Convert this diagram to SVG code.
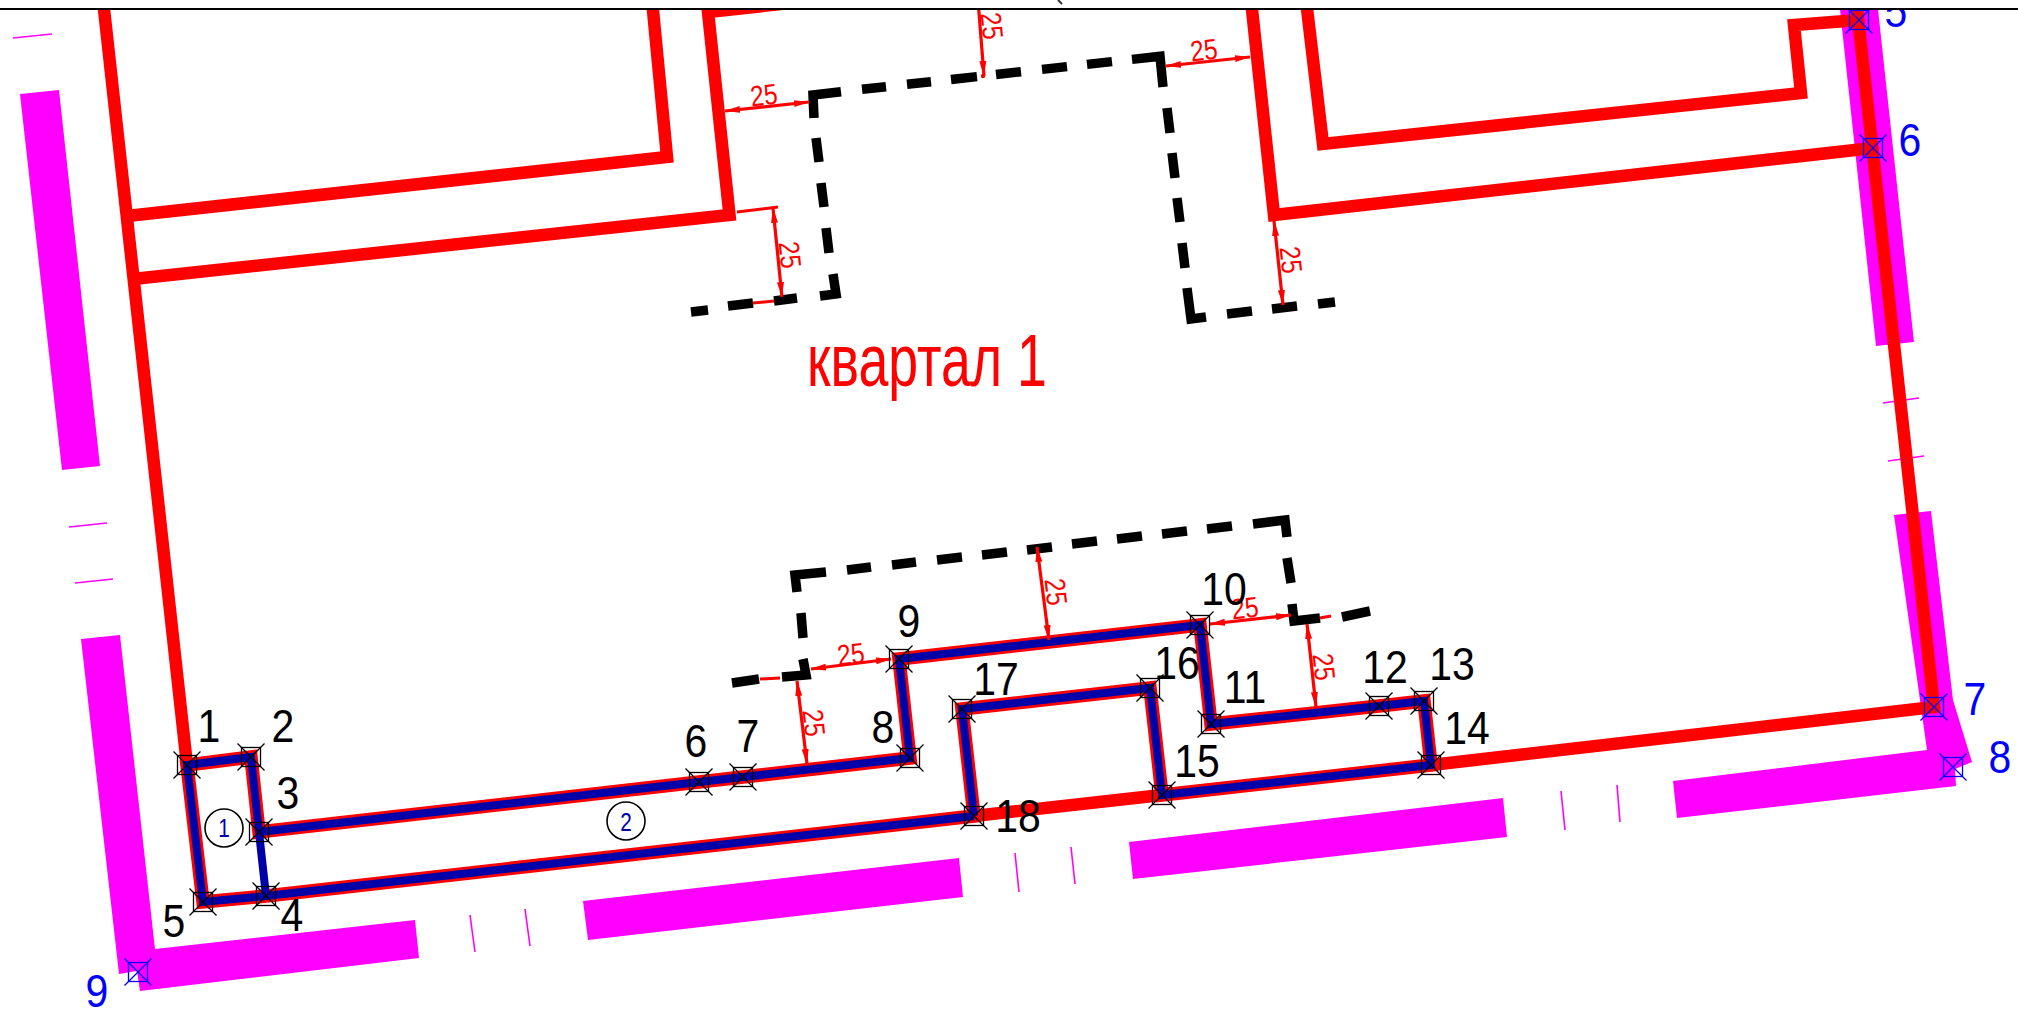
<svg xmlns="http://www.w3.org/2000/svg" width="2018" height="1022" viewBox="0 0 2018 1022">
<style>
text{font-family:"Liberation Sans",Arial,sans-serif}
.num{font-size:46px;text-anchor:middle}
.k{fill:#000;color:#000}
.b{fill:#0000ff;color:#0000ff}
.th{fill:none;stroke:#f00;stroke-width:12.5;stroke-linejoin:miter}
.rd{fill:none;stroke:#f00;stroke-width:13.5;stroke-linejoin:miter}
.bl{fill:none;stroke:#0000a8;stroke-width:8;stroke-linejoin:miter}
.dash{fill:none;stroke:#000;stroke-width:9.500}
.mg{fill:#f0f}
.tick{stroke:#f0f;stroke-width:1.6}
.dim{fill:none;stroke:#f00;stroke-width:3.200;marker-start:url(#ah);marker-end:url(#ah)}
.thin{fill:none;stroke:#f00;stroke-width:3}
.dt{fill:#f00;font-size:29px;text-anchor:middle}
.circ{fill:#fff;stroke:#000;stroke-width:1.6}
.ct{fill:#0000a8;font-size:26px;text-anchor:middle}
</style>
<defs>
<marker id="ah" markerUnits="userSpaceOnUse" markerWidth="16" markerHeight="9" refX="15" refY="4.500" orient="auto-start-reverse"><path d="M0 1L15 4.500L0 8z" fill="#f00"/></marker>
<g id="mk" fill="none" stroke="currentColor" stroke-width="1.3"><rect x="-9.500" y="-9.500" width="19" height="19"/><path d="M-13.500-13.500L13.500 13.500M-13.500 13.500L13.500-13.500"/></g>
</defs>
<rect width="2018" height="1022" fill="#fff"/>

<g id="road">
<polygon class="mg" points="20,94 59,90 100,466 62,470"/>
<polygon class="mg" points="81,639 120,635 155,949 415,920 419,958 140,991 137,971 119,974"/>
<polygon class="mg" points="583,901 959,858 963,897 588,940"/>
<polygon class="mg" points="1129,842 1503,798 1507,837 1133,879"/>
<polygon class="mg" points="1673,781 1927,750 1894,515 1931,511 1953,700 1972,762 1955,769 1956,786 1677,818"/>
<polygon class="mg" points="1839,0 1877,0 1914,342 1876,346"/>
<path class="tick" d="M13 38L52 34M69 527L107 523M75 583L113 579M1883 403L1919 398M1888 461L1924 456M470 915L475 952M525 909L530 946M1015 853L1019 892M1071 847L1075 884M1561 791L1565 830M1617 785L1620 822"/>
</g>

<g id="connectors">
<path class="th" d="M103 0L187 765"/>
<path class="th" d="M652 0L667 157L127 216"/>
<path class="th" d="M781 4L708 12L729.500 215L133 279"/>
<path class="th" d="M1251 0L1274 215L1873 148"/>
<path class="th" d="M1306 0L1323 144L1801 93L1794 25L1859 20"/>
<path class="th" d="M1856 0L1934 707L1431 765"/>
<path class="th" d="M974 816L1162 795"/>
<path class="rd" d="M266 896L203 902L187 765L251 757L259 832L699 782L743 777L910 758L899 659L1200 625L1211 724L1379 706L1424 701L1431 765L1162 795L1150 688L962 709L974 816L266 896"/>
<path class="bl" d="M974 816L266 896L203 902L187 765L251 757L259 832L699 782L743 777L910 758L899 659L1200 625L1211 724L1379 706L1424 701L1431 765L1162 795L1150 688L962 709L974 816M259 832L266 896"/>
<path class="dash" d="M691 312L708 310M728 306L753 303M774 301L797 298M820 296L836 294L833 274M829 253L826 228M824 207L821 183M819 162L816 138M814 118L813 95L841 91.700M862 89.300L886 86.700M907 84.300L931 81.700M951 79.500L977 76.600M996 74.500L1021 71.700M1042 69.400L1067 66.600M1087 64.400L1112 61.600M1132 59.400L1160 56.300L1163 87M1167 108L1170 133M1172 153L1175 178M1177 198L1180 222M1182 243L1185 268M1187 288L1191 319L1206 317M1227 314L1252 311M1272 309L1297 306M1318 304L1335 302"/>
<path class="dash" d="M732 683L759 679M782 677L806 675L803 659M803 638L801 613M797 592L795 575L826 572M847 570L871 567M892 565L916 562M937 560L962 557M982 555L1007 552M1027 550L1052 547M1072 544L1097 541M1117 539L1142 536M1162 534L1187 531M1207 529L1232 526M1253 524L1285 520L1287 537M1287 558L1291 583M1292 604L1294 621L1320 618M1342 617L1370 611"/>
<path class="thin" d="M737 212L778 207M753 303L774 301M760 679L780 678M1320 618L1331 616"/>
<path class="dim" d="M725 111L809 102"/>
<path class="dim" d="M1166 66L1250 57"/>
<path class="dim" d="M773 208L782 297"/>
<path class="dim" d="M1274 221L1283 305"/>
<path class="dim" d="M811 669L891 659"/>
<path class="dim" d="M797 681L807 764"/>
<path class="dim" d="M1210 624L1291 615"/>
<path class="dim" d="M1307 624L1316 707"/>
<path class="dim" d="M1037 547L1049 640"/>
<path class="dim" d="M978 0L984 76" style="marker-start:none"/>
<circle cx="983" cy="76" r="2.200" fill="#f00"/>
</g>

<g id="dimension-labels">
<text class="dt" transform="translate(765 105) rotate(-6.300) scale(.84 1)">25</text>
<text class="dt" transform="translate(1205 60) rotate(-6.300) scale(.84 1)">25</text>
<text class="dt" transform="translate(852 664) rotate(-6.300) scale(.84 1)">25</text>
<text class="dt" transform="translate(1246 618) rotate(-6.300) scale(.84 1)">25</text>
<text class="dt" transform="translate(982 27) rotate(83.700) scale(.84 1)">25</text>
<text class="dt" transform="translate(780 256) rotate(83.700) scale(.84 1)">25</text>
<text class="dt" transform="translate(1281 261) rotate(83.700) scale(.84 1)">25</text>
<text class="dt" transform="translate(804 724) rotate(83.700) scale(.84 1)">25</text>
<text class="dt" transform="translate(1314 668) rotate(83.700) scale(.84 1)">25</text>
<text class="dt" transform="translate(1046 593) rotate(83.700) scale(.84 1)">25</text>
</g>

<text id="title" x="807" y="386" font-size="75" fill="#f00" textLength="240" lengthAdjust="spacingAndGlyphs">квартал 1</text>

<g id="circle-1"><circle class="circ" cx="224" cy="828" r="19"/><text class="ct" transform="translate(224 837) scale(.8 1)">1</text></g>
<g id="circle-2"><circle class="circ" cx="626" cy="821" r="19"/><text class="ct" transform="translate(626 831) scale(.8 1)">2</text></g>

<g id="p1" class="k"><use href="#mk" x="187" y="765"/><text class="num" transform="translate(209 742) scale(.89 1)">1</text></g>
<g id="p2" class="k"><use href="#mk" x="251" y="757"/><text class="num" transform="translate(283 742) scale(.89 1)">2</text></g>
<g id="p3" class="k"><use href="#mk" x="259" y="832"/><text class="num" transform="translate(288 809) scale(.89 1)">3</text></g>
<g id="p4" class="k"><use href="#mk" x="266" y="896"/><text class="num" transform="translate(292 931) scale(.89 1)">4</text></g>
<g id="p5" class="k"><use href="#mk" x="203" y="902"/><text class="num" transform="translate(174 937) scale(.89 1)">5</text></g>
<g id="p6" class="k"><use href="#mk" x="699" y="782"/><text class="num" transform="translate(696 757) scale(.89 1)">6</text></g>
<g id="p7" class="k"><use href="#mk" x="743" y="777"/><text class="num" transform="translate(748 752) scale(.89 1)">7</text></g>
<g id="p8" class="k"><use href="#mk" x="910" y="758"/><text class="num" transform="translate(883 743) scale(.89 1)">8</text></g>
<g id="p9" class="k"><use href="#mk" x="899" y="659"/><text class="num" transform="translate(909 637) scale(.89 1)">9</text></g>
<g id="p10" class="k"><use href="#mk" x="1200" y="625"/><text class="num" transform="translate(1224 605) scale(.89 1)">10</text></g>
<g id="p11" class="k"><use href="#mk" x="1211" y="724"/><text class="num" transform="translate(1245 703) scale(.89 1)">11</text></g>
<g id="p12" class="k"><use href="#mk" x="1379" y="706"/><text class="num" transform="translate(1385 683) scale(.89 1)">12</text></g>
<g id="p13" class="k"><use href="#mk" x="1424" y="701"/><text class="num" transform="translate(1452 680) scale(.89 1)">13</text></g>
<g id="p14" class="k"><use href="#mk" x="1431" y="765"/><text class="num" transform="translate(1467 744) scale(.89 1)">14</text></g>
<g id="p15" class="k"><use href="#mk" x="1162" y="795"/><text class="num" transform="translate(1197 777) scale(.89 1)">15</text></g>
<g id="p16" class="k"><use href="#mk" x="1150" y="688"/><text class="num" transform="translate(1177 679) scale(.89 1)">16</text></g>
<g id="p17" class="k"><use href="#mk" x="962" y="709"/><text class="num" transform="translate(996 695) scale(.89 1)">17</text></g>
<g id="p18" class="k"><use href="#mk" x="974" y="816"/><text class="num" transform="translate(1018 832) scale(.89 1)">18</text></g>

<g id="q5" class="b"><use href="#mk" x="1859" y="20"/><text class="num" transform="translate(1896 27) scale(.89 1)">5</text></g>
<g id="q6" class="b"><use href="#mk" x="1873" y="148"/><text class="num" transform="translate(1910 156) scale(.89 1)">6</text></g>
<g id="q7" class="b"><use href="#mk" x="1934" y="707"/><text class="num" transform="translate(1975 715) scale(.89 1)">7</text></g>
<g id="q8" class="b"><use href="#mk" x="1953" y="767"/><text class="num" transform="translate(2000 773) scale(.89 1)">8</text></g>
<g id="q9" class="b"><use href="#mk" x="138" y="972"/><text class="num" transform="translate(97 1007) scale(.89 1)">9</text></g>

<rect width="2018" height="8" fill="#fff"/>
<line x1="0" y1="9" x2="2018" y2="9" stroke="#000" stroke-width="2"/>
<path d="M1058 0L1062 4" stroke="#333" stroke-width="2" fill="none"/>
</svg>
